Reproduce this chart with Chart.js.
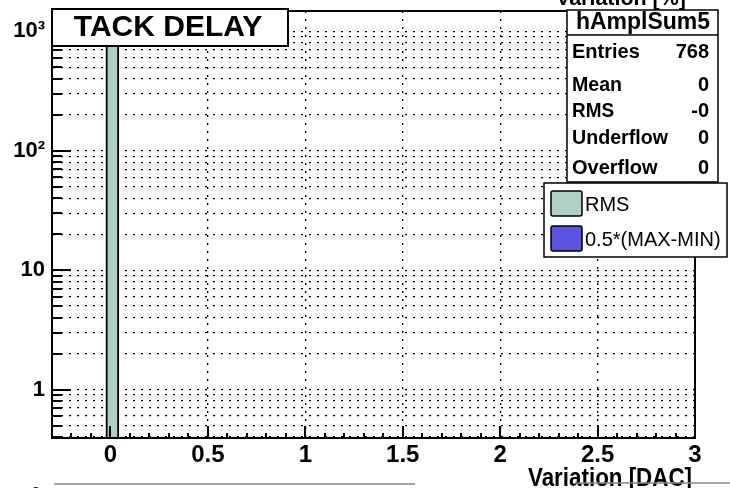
<!DOCTYPE html>
<html>
<head>
<meta charset="utf-8">
<script src="https://cdn.jsdelivr.net/npm/chart.js@4/dist/chart.umd.min.js"></script>
<style>
  html, body { margin: 0; padding: 0; background: #fff; }
  #chart { display: block; }
</style>
</head>
<body>
<canvas id="chart" width="730" height="488"></canvas>
<script>
// histogram content
var binCenters = [0.01];
var binCounts = [768];

// axis ticks
var xTicks = [0, 0.5, 1, 1.5, 2, 2.5, 3];
var yTicks = [0.4, 0.5, 0.6, 0.7, 0.8, 0.9,
  1, 2, 3, 4, 5, 6, 7, 8, 9,
  10, 20, 30, 40, 50, 60, 70, 80, 90,
  100, 200, 300, 400, 500, 600, 700, 800, 900, 1000];
var yLabels = { 1: "1", 10: "10", 100: "10\u00b2", 1000: "10\u00b3" };

// stats box
var statTitle = "hAmplSum5";
var statNames = ["Entries", "Mean", "RMS", "Underflow", "Overflow"];
var statValues = ["768", "0", "-0", "0", "0"];

var seriesNames = ["RMS", "0.5*(MAX-MIN)"];
var seriesColors = ["#afd0c6", "#5a52e0"];

var FONT = "'Liberation Sans', Arial, sans-serif";

function txt(ctx, s, x, y, font, align, maxW) {
  ctx.font = font;
  ctx.textAlign = align || "left";
  ctx.textBaseline = "alphabetic";
  ctx.fillStyle = "#000";
  if (maxW) ctx.fillText(s, x, y, maxW);
  else ctx.fillText(s, x, y);
}

function box(ctx, x, y, w, h, lw) {
  ctx.fillStyle = "#fff";
  ctx.fillRect(x, y, w, h);
  ctx.lineWidth = lw || 2;
  ctx.strokeStyle = "#000";
  ctx.strokeRect(x, y, w, h);
}

// ROOT-like decorations: inner ticks, frame, title, stats and legend boxes
var rootDecor = {
  id: "rootDecor",
  afterDatasetsDraw: function (chart) {
    var ctx = chart.ctx;
    var a = chart.chartArea;
    var xs = chart.scales.x;
    var ys = chart.scales.y;
    ctx.save();
    ctx.strokeStyle = "#000";
    ctx.lineWidth = 2;

    // y ticks (inside)
    yTicks.forEach(function (v) {
      var py = Math.round(ys.getPixelForValue(v));
      var len = yLabels[v] ? 19 : 10;
      ctx.beginPath();
      ctx.moveTo(a.left, py);
      ctx.lineTo(a.left + len, py);
      ctx.stroke();
    });

    // x ticks (inside), minor every 0.1
    for (var i = -2; i <= 30; i++) {
      var v = i / 10;
      var px = Math.round(xs.getPixelForValue(v));
      var len = i % 5 === 0 ? 12 : 5;
      ctx.beginPath();
      ctx.moveTo(px, a.bottom);
      ctx.lineTo(px, a.bottom - len);
      ctx.stroke();
    }

    // frame
    ctx.strokeRect(a.left, a.top, a.right - a.left, a.bottom - a.top);

    // title box
    box(ctx, 52, 9, 236, 37, 2);
    txt(ctx, "TACK DELAY", 168, 36, "bold 30px " + FONT, "center", 204);

    // cut-off label from the pad above
    txt(ctx, "Variation [%]", 621, 5, "bold 22px " + FONT, "center", 130);

    // stats box
    box(ctx, 567, 10, 151, 172, 1.5);
    ctx.beginPath();
    ctx.moveTo(567, 35);
    ctx.lineTo(718, 35);
    ctx.stroke();
    txt(ctx, statTitle, 643, 29, "bold 23px " + FONT, "center", 143);
    var rowY = [58, 91, 117, 144, 174];
    var rowW = [68, 50, 42, 96, 86];
    statNames.forEach(function (n, k) {
      txt(ctx, n, 572, rowY[k], "bold 20px " + FONT, "left", rowW[k]);
      txt(ctx, statValues[k], 709, rowY[k], "bold 20px " + FONT, "right");
    });

    // legend
    box(ctx, 544, 183, 183, 74, 1.5);
    var ds = chart.data.datasets;
    [191, 226].forEach(function (sy, k) {
      ctx.fillStyle = ds[k].backgroundColor;
      ctx.beginPath();
      ctx.roundRect(551, sy, 31, 25, 2);
      ctx.fill();
      ctx.lineWidth = 1.5;
      ctx.strokeStyle = "#000";
      ctx.stroke();
      txt(ctx, ds[k].label, 585, sy + 20, "20px " + FONT, "left", 142);
    });

    // x axis title
    txt(ctx, "Variation [DAC]", 692, 486, "bold 25px " + FONT, "right", 164);

    // remains of the pad below
    ctx.strokeStyle = "#888";
    ctx.lineWidth = 1.5;
    ctx.beginPath();
    ctx.moveTo(54, 484);
    ctx.lineTo(415, 484);
    ctx.moveTo(575, 483);
    ctx.lineTo(730, 483);
    ctx.stroke();
    txt(ctx, "3", 36, 497, "bold 14px " + FONT, "center");

    ctx.restore();
  }
};

new Chart(document.getElementById("chart"), {
  type: "bar",
  data: {
    datasets: [
      {
        label: seriesNames[0],
        data: binCenters.map(function (x, i) {
          return { x: x, y: binCounts[i] };
        }),
        backgroundColor: seriesColors[0],
        borderColor: "#000",
        borderWidth: 2,
        borderSkipped: "bottom",
        barThickness: 13,
        grouped: false
      },
      {
        label: seriesNames[1],
        data: [],
        backgroundColor: seriesColors[1],
        borderColor: "#000",
        borderWidth: 1,
        grouped: false
      }
    ]
  },
  options: {
    responsive: false,
    animation: false,
    events: [],
    layout: { padding: { top: 11, right: 35, left: 0, bottom: 0 } },
    plugins: {
      legend: { display: false },
      tooltip: { enabled: false },
      title: { display: false }
    },
    scales: {
      x: {
        type: "linear",
        min: -0.3,
        max: 3,
        offset: false,
        afterBuildTicks: function (s) {
          s.ticks = xTicks.map(function (v) { return { value: v }; });
        },
        afterFit: function (s) {
          s.height = 50;
          s.paddingLeft = 0;
          s.paddingRight = 0;
        },
        ticks: {
          autoSkip: false,
          maxRotation: 0,
          padding: 3,
          color: "#000",
          font: { family: FONT, size: 24, weight: "bold" },
          callback: function (v) { return String(v); }
        },
        grid: { color: "#000", lineWidth: 1.3, drawTicks: false, offset: false },
        border: { display: true, color: "#000", width: 2, dash: [2, 6] }
      },
      y: {
        type: "logarithmic",
        min: 0.393,
        max: 1480,
        afterBuildTicks: function (s) {
          s.ticks = yTicks.map(function (v) { return { value: v }; });
        },
        afterFit: function (s) {
          s.width = 52;
          s.paddingTop = 0;
          s.paddingBottom = 0;
        },
        ticks: {
          autoSkip: false,
          padding: 7,
          color: "#000",
          font: { family: FONT, size: 22, weight: "bold" },
          callback: function (v) { return yLabels[v] || ""; }
        },
        grid: { color: "#000", lineWidth: 1.3, drawTicks: false },
        border: { display: true, color: "#000", width: 2, dash: [2, 6] }
      }
    }
  },
  plugins: [rootDecor]
});
</script>
</body>
</html>
